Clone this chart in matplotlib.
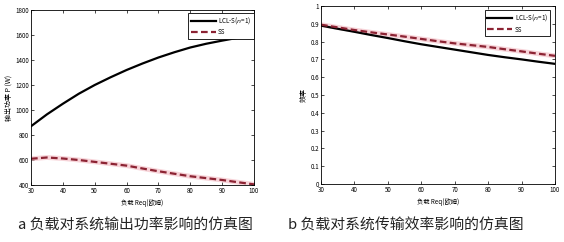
import matplotlib
matplotlib.use('Agg')
import matplotlib.pyplot as plt

plt.rcParams['font.family'] = ['Noto Sans CJK SC', 'DejaVu Sans']

# load resistance (ohm)
req = [30, 35, 40, 45, 50, 55, 60, 65, 70, 75, 80, 85, 90, 95, 100]

# output power (W)
p_lcls = [870, 965, 1050, 1130, 1200, 1262, 1320, 1372, 1420, 1462, 1500, 1530, 1555, 1578, 1600]
p_ss = [610, 620, 612, 600, 585, 570, 555, 532, 510, 490, 470, 455, 440, 422, 405]

# efficiency
eta_lcls = [0.890, 0.872, 0.855, 0.837, 0.820, 0.802, 0.785, 0.770, 0.755, 0.740, 0.725, 0.712, 0.700, 0.687, 0.675]
eta_ss = [0.895, 0.880, 0.865, 0.852, 0.840, 0.828, 0.815, 0.802, 0.790, 0.780, 0.770, 0.757, 0.745, 0.732, 0.720]

xticks = [30, 40, 50, 60, 70, 80, 90, 100]
captions = ['a 负载对系统输出功率影响的仿真图', 'b 负载对系统传输效率影响的仿真图']

ss_color = '#8c2333'
glow = '#f2b8c0'

fig = plt.figure(figsize=(5.64, 2.42), dpi=100)
ax1 = fig.add_axes([31 / 564, 1 - 185 / 242, 223 / 564, 175 / 242])
ax2 = fig.add_axes([321 / 564, 1 - 184 / 242, 234 / 564, 178 / 242])


def style(ax):
    ax.set_xlim(30, 100)
    ax.set_xticks(xticks)
    ax.tick_params(labelsize=4.5, direction='in', length=2, width=0.5, pad=1.5, top=True, right=True)
    for s in ax.spines.values():
        s.set_linewidth(0.6)
    ax.set_xlabel('负载 Req(欧姆)', fontsize=4.5, labelpad=3)


def add_legend(ax, anchor):
    leg = ax.legend(loc='upper right', bbox_to_anchor=anchor, fontsize=4.5, frameon=True,
                    fancybox=False, edgecolor='black', framealpha=1, handlelength=4,
                    borderaxespad=0, borderpad=0.4, labelspacing=0.35, handletextpad=0.4)
    leg.get_frame().set_linewidth(0.6)


ax1.plot(req, p_ss, color=glow, lw=3.5, alpha=0.6)
ax1.plot(req, p_lcls, color='black', lw=1.6, label='LCL-S($n$=1)')
ax1.plot(req, p_ss, color=ss_color, lw=1.6, ls=(0, (3, 1.5)), label='SS')
ax1.set_ylim(400, 1800)
ax1.set_yticks(range(400, 1801, 200))
ax1.set_ylabel('输出功率 P (W)', fontsize=5, labelpad=2)
style(ax1)
add_legend(ax1, (1.0, 0.983))

ax2.plot(req, eta_ss, color=glow, lw=3.5, alpha=0.6)
ax2.plot(req, eta_lcls, color='black', lw=1.6, label='LCL-S($n$=1)')
ax2.plot(req, eta_ss, color=ss_color, lw=1.6, ls=(0, (3, 1.5)), label='SS')
ax2.set_ylim(0, 1)
ax2.set_yticks([i / 10 for i in range(11)])
ax2.set_yticklabels(['0', '0.1', '0.2', '0.3', '0.4', '0.5', '0.6', '0.7', '0.8', '0.9', '1'])
ax2.set_ylabel('效率', fontsize=5, labelpad=2)
style(ax2)
add_legend(ax2, (0.98, 0.977))

fig.text(18 / 564, 1 - 226 / 242, captions[0], fontsize=10.7, va='center', ha='left', color='#222222')
fig.text(288 / 564, 1 - 226 / 242, captions[1], fontsize=10.7, va='center', ha='left', color='#222222')

fig.savefig('out.png', dpi=100)
